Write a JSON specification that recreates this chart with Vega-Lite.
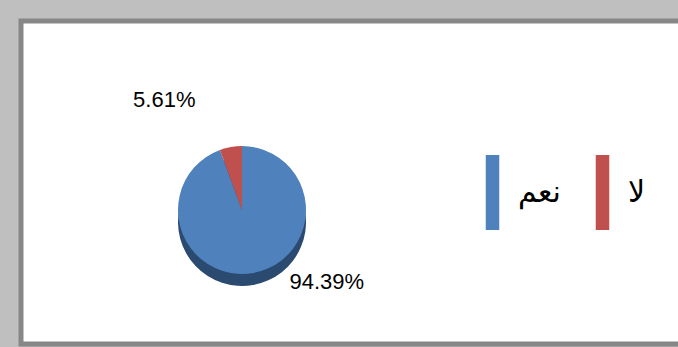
{
  "$schema": "https://vega.github.io/schema/vega-lite/v6.json",
  "width": 657,
  "height": 323,
  "autosize": {"type": "none"},
  "padding": {"left": 21, "top": 21, "right": 0, "bottom": 3},
  "background": "#bfbfbf",
  "config": {"view": {"stroke": null}},
  "datasets": {
    "answers": [
      {"answer": "نعم", "share": 0.9439},
      {"answer": "لا", "share": 0.0561}
    ]
  },
  "data": {"name": "answers"},
  "layer": [
    {
      "data": {"values": [{}]},
      "mark": {"type": "rect", "fill": "white", "stroke": "#878787", "strokeWidth": 5},
      "encoding": {
        "x": {"value": 0},
        "x2": {"value": 668},
        "y": {"value": 0},
        "y2": {"value": "height"}
      }
    },
    {
      "mark": {"type": "arc", "outerRadius": 64, "x": 221, "y": 201, "fill": "#2b4a70"},
      "encoding": {
        "theta": {"field": "share", "type": "quantitative", "stack": true},
        "order": {"field": "share", "sort": "descending"}
      }
    },
    {
      "mark": {"type": "arc", "outerRadius": 64, "x": 221, "y": 189},
      "encoding": {
        "theta": {"field": "share", "type": "quantitative", "stack": true},
        "order": {"field": "share", "sort": "descending"},
        "color": {
          "field": "answer",
          "type": "nominal",
          "scale": {"domain": ["نعم", "لا"], "range": ["#4F81BD", "#C0504D"]},
          "legend": {
            "orient": "none",
            "legendX": 434,
            "legendY": 134,
            "direction": "horizontal",
            "title": null,
            "symbolType": "M-0.18,-1H0.18V1H-0.18Z",
            "symbolSize": 5625,
            "symbolStrokeWidth": 0,
            "symbolOpacity": 1,
            "labelFont": "DejaVu Sans",
            "labelFontSize": 30,
            "labelColor": "black",
            "labelOffset": -12,
            "columnPadding": 4
          }
        }
      }
    },
    {
      "mark": {"type": "text", "x": 221, "y": 189, "radius": 100, "align": "right", "baseline": "middle", "dx": -29, "dy": -12, "font": "Liberation Sans", "fontSize": 22, "color": "black"},
      "encoding": {
        "theta": {"field": "share", "type": "quantitative", "stack": true},
        "order": {"field": "share", "sort": "descending"},
        "text": {"condition": {"test": "datum.answer === 'لا'", "field": "share", "format": ".2%"}, "value": ""}
      }
    },
    {
      "mark": {"type": "text", "x": 221, "y": 189, "radius": 100, "align": "left", "baseline": "middle", "dx": 30, "dy": -26, "font": "Liberation Sans", "fontSize": 22, "color": "black"},
      "encoding": {
        "theta": {"field": "share", "type": "quantitative", "stack": true},
        "order": {"field": "share", "sort": "descending"},
        "text": {"condition": {"test": "datum.answer === 'نعم'", "field": "share", "format": ".2%"}, "value": ""}
      }
    }
  ]
}
